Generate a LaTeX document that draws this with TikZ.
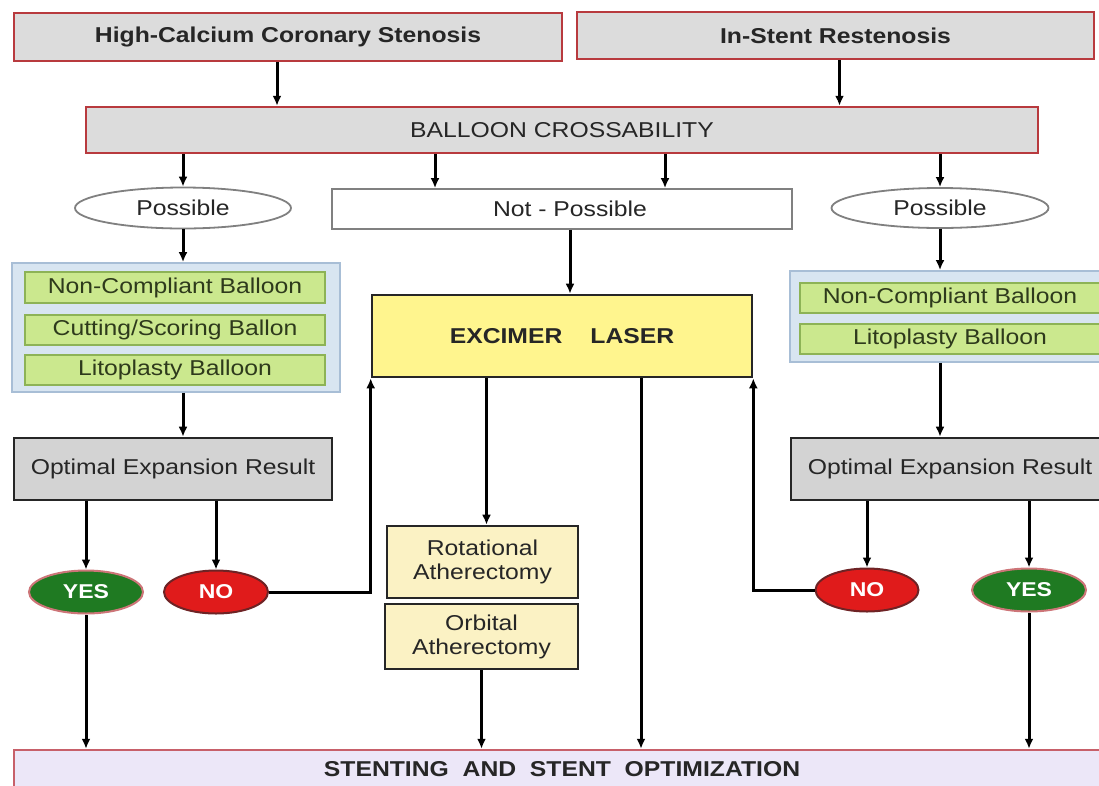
\documentclass[tikz,border=0pt]{standalone}
\usepackage{fontspec}
\setmainfont{Liberation Sans}[FakeStretch=1.15]
\usetikzlibrary{shapes.geometric,arrows.meta}
\definecolor{boxred}{HTML}{B83A3E}
\definecolor{boxgray}{HTML}{DCDCDC}
\definecolor{txtgray}{HTML}{262626}
\definecolor{grpblue}{HTML}{D8E5F1}
\definecolor{grpline}{HTML}{A8BED6}
\definecolor{balgreen}{HTML}{CBE88E}
\definecolor{balline}{HTML}{8DB356}
\definecolor{baltext}{HTML}{2E3A1C}
\definecolor{excyellow}{HTML}{FFF58E}
\definecolor{athyellow}{HTML}{FBF2C4}
\definecolor{optgray}{HTML}{D3D3D3}
\definecolor{yesgreen}{HTML}{1F7A22}
\definecolor{nored}{HTML}{E01B1B}
\definecolor{stentfill}{HTML}{ECE7F8}
\definecolor{stentline}{HTML}{C7606A}
\begin{document}
\begin{tikzpicture}[x=1pt,y=1pt,>={Latex[length=10pt,width=9pt]}]
\tikzstyle{every node}+=[inner sep=0pt, text=txtgray, font=\fontsize{21.5}{24}\selectfont]
\tikzstyle{topbox}=[rectangle, draw=boxred, line width=2.5pt, fill=boxgray]
\tikzstyle{boldtext}=[font=\fontsize{21.5}{24}\selectfont\bfseries]
\tikzstyle{choice}=[ellipse, draw=gray, line width=1.8pt, fill=white]
\tikzstyle{plainbox}=[rectangle, draw=gray, line width=1.8pt, fill=white]
\tikzstyle{group}=[rectangle, draw=grpline, line width=1.8pt, fill=grpblue]
\tikzstyle{balloon}=[rectangle, draw=balline, line width=1.5pt, fill=balgreen, text=baltext, minimum height=30pt]
\tikzstyle{darkbox}=[rectangle, draw=txtgray, line width=2.6pt]
\tikzstyle{answer}=[ellipse, line width=2pt, text=white, font=\fontsize{20}{22}\selectfont\bfseries, minimum height=43pt]
\tikzstyle{flow}=[black, line width=3pt, ->]
\useasboundingbox (0,0) rectangle (1099,-785);
% first row
\node [topbox, boldtext, minimum width=548pt, minimum height=48pt] (hcs) at (288,-37) {High-Calcium Coronary Stenosis};
\node [topbox, boldtext, minimum width=517pt, minimum height=47pt] (isr) at (835.5,-35.5) {In-Stent Restenosis};
\node [topbox, minimum width=952pt, minimum height=46pt] (bc) at (562,-130) {BALLOON CROSSABILITY};
% crossability
\node [choice, minimum width=216pt, minimum height=41pt] (pos1) at (183,-208) {Possible};
\node [plainbox, minimum width=460pt, minimum height=40pt] (np) at (562,-209) {\hspace{16pt}Not - Possible};
\node [choice, minimum width=217pt, minimum height=40pt] (pos2) at (940,-208) {Possible};
% balloons
\node [group, minimum width=328pt, minimum height=129pt] (grp1) at (176,-327.5) {};
\node [balloon, minimum width=300pt, minimum height=31pt] (nc1) at (175,-287.5) {Non-Compliant Balloon};
\node [balloon, minimum width=300pt] (csb) at (175,-330) {Cutting/Scoring Ballon};
\node [balloon, minimum width=300pt] (lit1) at (175,-370) {Litoplasty Balloon};
\node [group, minimum width=320pt, minimum height=91pt] (grp2) at (950,-316.5) {};
\node [balloon, minimum width=300pt] (nc2) at (950,-298) {Non-Compliant Balloon};
\node [balloon, minimum width=300pt] (lit2) at (950,-339) {Litoplasty Balloon};
% laser
\node [darkbox, boldtext, fill=excyellow, minimum width=380pt, minimum height=82pt] (exc) at (562,-336) {EXCIMER\hspace{28pt}LASER};
\node [darkbox, fill=athyellow, align=center, minimum width=191pt, minimum height=72pt] (rot) at (482.5,-562) {Rotational\\Atherectomy};
\node [darkbox, fill=athyellow, align=center, minimum width=193pt, minimum height=65pt] (orb) at (481.5,-636.5) {Orbital\\Atherectomy};
% results
\node [darkbox, fill=optgray, minimum width=318pt, minimum height=62pt] (opt1) at (173,-469) {Optimal Expansion Result};
\node [darkbox, fill=optgray, minimum width=318pt, minimum height=62pt] (opt2) at (950,-469) {Optimal Expansion Result};
\node [answer, draw=boxred!70, fill=yesgreen, minimum width=114pt] (yes1) at (86,-592) {YES};
\node [answer, draw=boxred!60!black, fill=nored, minimum width=104pt] (no1) at (216,-592) {NO};
\node [answer, draw=boxred!60!black, fill=nored, minimum width=103pt] (no2) at (867,-590) {NO};
\node [answer, draw=boxred!70, fill=yesgreen, minimum width=114pt] (yes2) at (1029,-590) {YES};
% stenting
\node [rectangle, draw=stentline, line width=2.5pt, fill=stentfill, boldtext, minimum width=1096pt, minimum height=38pt] (stent) at (562,-769) {STENTING\ \ AND\ \ STENT\ \ OPTIMIZATION};
% connectors
\draw [flow] ([xshift=-11pt]hcs.south) -- ([xshift=-11pt]hcs.south |- bc.north);
\draw [flow] ([xshift=4pt]isr.south) -- ([xshift=4pt]isr.south |- bc.north);
\draw [flow] (pos1.north |- bc.south) -- (pos1.north);
\draw [flow] ([xshift=-127pt]np.north |- bc.south) -- ([xshift=-127pt]np.north);
\draw [flow] ([xshift=103pt]np.north |- bc.south) -- ([xshift=103pt]np.north);
\draw [flow] (pos2.north |- bc.south) -- (pos2.north);
\draw [flow] (pos1.south) -- (pos1.south |- grp1.north);
\draw [flow] (pos1.south |- grp1.south) -- (pos1.south |- opt1.north);
\draw [flow] ([xshift=8pt]np.south) -- ([xshift=8pt]np.south |- exc.north);
\draw [flow] (pos2.south) -- (pos2.south |- grp2.north);
\draw [flow] (pos2.south |- grp2.south) -- (pos2.south |- opt2.north);
\draw [flow] (yes1.north |- opt1.south) -- (yes1.north);
\draw [flow] (no1.north |- opt1.south) -- (no1.north);
\draw [flow] (no1.east) -| (exc.south west);
\draw [flow] (no2.north |- opt2.south) -- (no2.north);
\draw [flow] (no2.west) -| (exc.south east);
\draw [flow] (yes2.north |- opt2.south) -- (yes2.north);
\draw [flow] ([xshift=4pt]rot.north |- exc.south) -- ([xshift=4pt]rot.north);
\draw [flow] (orb.south) -- (orb.south |- stent.north);
\draw [flow] ([xshift=79pt]exc.south) -- ([xshift=79pt]exc.south |- stent.north);
\draw [flow] (yes1.south) -- (yes1.south |- stent.north);
\draw [flow] (yes2.south) -- (yes2.south |- stent.north);
\end{tikzpicture}
\end{document}
